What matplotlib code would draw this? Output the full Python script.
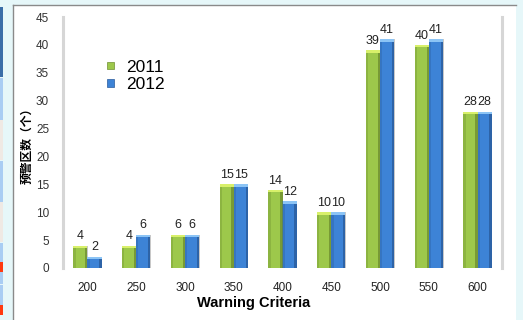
import matplotlib
matplotlib.use("Agg")
import matplotlib.pyplot as plt
from matplotlib.patches import Rectangle
from matplotlib.lines import Line2D
import numpy as np

categories = ["200", "250", "300", "350", "400", "450", "500", "550", "600"]
counts_2011 = [4, 4, 6, 15, 14, 10, 39, 40, 28]
counts_2012 = [2, 6, 6, 15, 12, 10, 41, 41, 28]
series_names = ["2011", "2012"]
y_ticks = [0, 5, 10, 15, 20, 25, 30, 35, 40, 45]

W, H = 523, 320
fig = plt.figure(figsize=(W / 100, H / 100), dpi=100)
fig.patch.set_facecolor("#e6f7f9")

def px_rect(x0, y0, x1, y1, **kw):
    """Rectangle given in pixel coordinates measured from the top-left corner."""
    r = Rectangle((x0 / W, 1 - y1 / H), (x1 - x0) / W, (y1 - y0) / H,
                  transform=fig.transFigure, zorder=-5, **kw)
    fig.patches.append(r)

# side strip of the surrounding window
strip = [(7, 77, "#3a6ea8"), (78, 120, "#a9cdf3"), (120, 160, "#efe9e4"),
         (161, 202, "#a9cdf3"), (202, 242, "#efe9e4"), (243, 262, "#a9cdf3"),
         (262, 272, "#ff3a10"), (272, 284, "#a9cdf3"), (285, 305, "#a9cdf3"),
         (305, 315, "#ff3a10")]
for y0, y1, c in strip:
    px_rect(0, y0, 3, y1, facecolor=c, edgecolor="none")

# white chart panel
px_rect(12.5, 5, 516, 322, facecolor="white", edgecolor="none")
fig.lines.append(Line2D([12.5 / W, 12.5 / W], [0, 1 - 5 / H], transform=fig.transFigure,
                        color="#8a8a8a", lw=1.0, zorder=-4))
fig.lines.append(Line2D([12.5 / W, 516 / W], [1 - 5 / H, 1 - 5 / H], transform=fig.transFigure,
                        color="#8a8a8a", lw=1.0, zorder=-4))

ax = fig.add_axes([63 / W, 52 / H, 439 / W, 251 / H])
ax.set_facecolor("none")

x = np.arange(len(categories))
bw = 0.29
green, green_dark, green_top = "#9dc84b", "#6f8f30", "#d8f06a"
blue, blue_dark, blue_top = "#3d83d6", "#2a5b9c", "#8cc4f5"

def draw_series(xpos, vals, main, dark, top):
    ax.bar(xpos + 0.012, vals, bw, color="#c8c8c8", zorder=1)  # soft shadow
    ax.bar(xpos, vals, bw, color=main, zorder=2)
    ax.bar(xpos - bw * 0.42, vals, bw * 0.16, color=dark, alpha=0.35, zorder=3)
    ax.bar(xpos + bw * 0.42, vals, bw * 0.16, color=dark, alpha=0.8, zorder=3)
    caps = [0.45] * len(vals)
    ax.bar(xpos, caps, bw, bottom=np.array(vals) - 0.45, color=top, zorder=4)

xg = x - bw / 2
xb = x + bw / 2
draw_series(xg, counts_2011, green, green_dark, green_top)
draw_series(xb, counts_2012, blue, blue_dark, blue_top)

for xs, vals in ((xg, counts_2011), (xb, counts_2012)):
    for xi, v in zip(xs, vals):
        ax.text(xi, v + 0.6, str(v), ha="center", va="bottom", fontsize=9,
                family="Liberation Sans", color="#222222")

ax.set_xlim(-0.5, len(categories) - 0.5)
ax.set_ylim(0, 45)
ax.set_yticks(y_ticks)
ax.set_yticklabels([str(t) for t in y_ticks], fontsize=8.5, family="Liberation Sans", color="#333333")
ax.set_yticks([10, 20, 30, 40], minor=True)
ax.tick_params(axis="y", which="major", length=0, pad=10)
ax.tick_params(axis="y", which="minor", length=3, width=0.8, color="#777777")
ax.set_xticks(x)
ax.set_xticklabels(categories, fontsize=8.5, family="Liberation Sans", color="#222222")
ax.tick_params(axis="x", length=0, pad=10)

for s in ("top", "bottom"):
    ax.spines[s].set_visible(False)
for s in ("left", "right"):
    ax.spines[s].set_color("#d6d6d6")
    ax.spines[s].set_linewidth(2.2)

ax.set_xlabel("Warning Criteria", fontsize=10.5, fontweight="bold", family="Liberation Sans")
ax.xaxis.set_label_coords((254 - 63) / 439, (268 - 303) / 251)
ax.xaxis.label.set_va("center")

ax.set_ylabel("预警区数（个）", fontsize=8.5, family=["Noto Sans CJK SC", "DejaVu Sans"],
              fontweight="bold")
ax.yaxis.set_label_coords((27 - 63) / 439, (268 - 143) / 251)
ax.yaxis.label.set_va("center")

handles = [Rectangle((0, 0), 1, 1, facecolor=green, edgecolor=green_dark, lw=0.5),
           Rectangle((0, 0), 1, 1, facecolor=blue, edgecolor=blue_dark, lw=0.5)]
fig.legend(handles, series_names, loc="upper left",
           bbox_to_anchor=(91 / W, 1 - 44 / H), frameon=False,
           prop={"family": "Liberation Sans", "size": 12.5},
           handlelength=0.4, handleheight=0.28, handletextpad=0.7, labelspacing=0.15)

fig.savefig("out.png", dpi=100, facecolor=fig.get_facecolor())
